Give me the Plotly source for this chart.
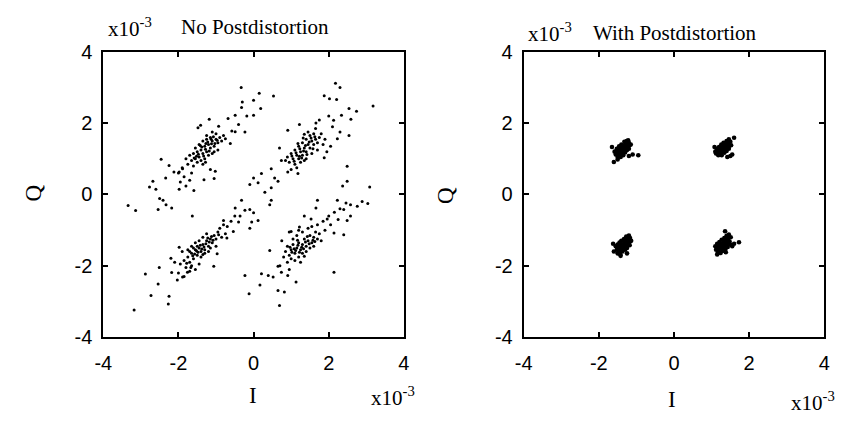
import plotly.graph_objects as go

# ---- Data (units of 1e-3) ----
# Left panel: No Postdistortion
nopd_upper_left = [(-0.33,3.0),(0.15,2.84),(0.53,2.76),(-0.30,2.59),(0.0,2.64),(0.19,2.41),(-0.32,2.44),(-0.49,2.22),(-0.68,2.13),(-0.18,2.2),(0.0,2.22),(-0.4,1.96),(-0.58,1.78),(-0.23,1.75),(-0.49,1.76),(-1.18,2.11),(-1.41,1.94),(-1.48,1.87),(-0.93,1.91),(-0.75,1.56),(-0.62,1.43),(-2.46,0.99),(-2.25,0.81),(-2.12,0.63),(-2.34,0.46),(-2.68,0.37),(-2.77,0.21),(-2.6,0.15),(-2.5,-0.11),(-2.41,-0.16),(-2.54,-0.42),(-2.33,-0.29),(-2.18,-0.38),(-1.98,0.15),(-1.8,0.24),(-1.59,0.11),(-1.32,0.41),(-1.02,0.65),(-1.28,0.90),(-1.98,0.63),(-1.89,0.72),(-3.34,-0.31),(-3.14,-0.45),
    (-1.65,0.95),(-1.55,1.0),(-1.6,1.15),(-1.5,1.2),(-1.45,1.05),(-1.4,1.25),(-1.35,1.15),(-1.3,1.35),(-1.25,1.2),(-1.2,1.4),(-1.15,1.3),(-1.1,1.5),(-1.05,1.35),(-1.0,1.55),(-0.95,1.45),(-0.9,1.6),(-1.45,1.4),(-1.35,1.5),(-1.25,1.55),(-1.15,1.6),(-1.0,1.7),(-1.5,0.9),(-1.3,1.0),(-1.2,1.1),(-1.1,1.15),(-1.7,1.1),(-1.55,1.3),(-1.4,0.95),(-0.85,1.5),(-0.95,1.25),(-1.05,1.2),(-1.6,0.8),(-1.75,0.85),(-1.8,1.0),(-1.25,1.65),(-1.1,1.75),(-0.8,1.65),(-1.35,0.85),
    (-1.9,0.75),(-2.0,0.6),(-1.85,0.5),(-1.65,0.6),(-1.95,0.35),(-1.7,0.4),(-1.05,0.45),(-1.15,0.7),
    (-1.38,1.33),(-1.22,1.47),(-1.12,1.42),(-1.28,1.27),(-1.47,1.13),(-1.33,1.08),(-1.18,1.22),(-1.07,1.62),(-0.97,1.52),(-1.52,1.07),(-1.42,1.37),(-1.27,1.43),(-1.13,1.55),(-1.58,1.02),(-1.03,1.43)]

nopd_upper_right = [(2.18,3.12),(2.30,3.0),(1.88,2.77),(2.02,2.68),(2.21,2.66),(3.18,2.48),(2.54,2.41),(2.74,2.33),(2.34,2.22),(2.59,2.11),(2.13,2.08),(1.75,2.09),(1.22,1.96),(1.66,2.0),(0.91,1.80),(1.35,1.69),(2.54,1.65),(2.23,1.56),(2.49,0.79),(1.88,1.03),(1.18,0.59),(0.69,1.30),(0.74,0.95),(0.47,0.72),(0.21,0.59),(0.0,0.46),(0.12,0.33),(-0.1,0.28),(0.3,0.06),(0.47,0.19),(0.65,0.37),(0.56,0.46),(0.91,0.63),(0.43,-0.29),(0.47,-0.16),(2.0,2.2),(2.1,1.9),(2.3,1.75),(2.05,1.35),(1.95,1.2),
    (0.95,0.9),(1.05,1.0),(1.1,0.85),(1.15,1.1),(1.2,1.0),(1.25,1.2),(1.3,1.1),(1.35,1.3),(1.4,1.2),(1.45,1.4),(1.5,1.3),(1.55,1.5),(1.6,1.4),(1.65,1.55),(1.7,1.45),(1.75,1.6),(1.0,1.15),(1.1,1.25),(1.2,1.35),(1.3,1.45),(1.4,1.55),(1.5,1.65),(1.6,1.7),(0.9,1.05),(1.25,0.9),(1.4,1.0),(1.55,1.15),(1.7,1.25),(1.85,1.4),(1.8,1.7),(1.35,0.95),(1.15,0.75),(1.0,0.7),(1.65,1.85),(1.9,1.55),(1.45,1.75),(0.85,0.95),
    (1.13,1.17),(1.23,1.28),(1.33,1.22),(1.38,1.37),(1.48,1.47),(1.28,1.02),(1.08,0.93),(1.18,1.43),(1.42,1.12),(1.58,1.28),(1.02,1.08),(1.53,1.58),(1.63,1.62),(1.32,1.58),(1.22,1.07)]

nopd_lower_left = [(-1.63,-0.60),(-0.32,-0.16),(-0.49,-0.38),(0.0,-0.51),(-0.23,-0.44),(-0.10,-0.42),(-0.36,-0.60),(-0.80,-0.73),(-0.40,-0.77),(-0.05,-0.77),(0.12,-0.73),(-0.10,-0.95),(-0.54,-1.04),(-0.71,-1.22),(-0.93,-1.13),(-1.98,-1.48),(-2.2,-1.79),(-2.18,-2.19),(-2.03,-2.40),(-1.89,-2.31),(-1.76,-2.18),(-1.67,-2.05),(-1.06,-2.01),(-0.97,-1.66),(-2.51,-2.05),(-2.88,-2.23),(-2.54,-2.51),(-2.73,-2.83),(-2.25,-2.85),(-2.27,-3.07),(-3.18,-3.24),
    (-1.85,-1.85),(-1.75,-1.75),(-1.7,-1.9),(-1.65,-1.65),(-1.6,-1.8),(-1.55,-1.55),(-1.5,-1.7),(-1.45,-1.5),(-1.4,-1.6),(-1.35,-1.4),(-1.3,-1.55),(-1.25,-1.3),(-1.2,-1.45),(-1.15,-1.25),(-1.1,-1.35),(-1.05,-1.15),(-1.0,-1.25),(-0.95,-1.05),(-1.55,-1.35),(-1.45,-1.3),(-1.35,-1.2),(-1.25,-1.1),(-1.6,-1.5),(-1.5,-1.45),(-1.4,-1.75),(-1.3,-1.65),(-1.2,-1.6),(-1.75,-1.55),(-1.65,-1.45),(-1.9,-1.6),(-1.95,-1.95),(-1.8,-2.05),(-1.65,-2.0),(-0.9,-0.95),(-0.85,-1.2),(-1.15,-1.5),(-1.45,-1.95),(-1.0,-1.45),
    (-2.0,-2.2),(-1.85,-2.3),(-1.7,-2.15),(-1.55,-2.1),(-2.1,-1.9),(-0.8,-0.85),(-0.7,-0.9),(-0.6,-0.75),(-0.5,-0.6),(-0.75,-1.1),
    (-1.42,-1.42),(-1.32,-1.47),(-1.52,-1.58),(-1.38,-1.53),(-1.27,-1.38),(-1.57,-1.67),(-1.48,-1.62),(-1.62,-1.72),(-1.22,-1.22),(-1.12,-1.18),(-1.7,-1.6),(-1.35,-1.68),(-1.18,-1.33),(-1.08,-1.28),(-1.78,-1.93)]

nopd_lower_right = [(3.09,0.21),(3.04,-0.25),(2.89,-0.20),(2.76,-0.33),(2.58,-0.29),(2.46,-0.24),(2.49,0.37),(2.37,0.24),(2.23,-0.16),(2.4,-0.42),(2.58,-0.6),(2.49,-0.73),(2.4,-1.13),(2.14,-1.08),(1.96,-0.69),(1.70,-0.16),(1.66,-0.38),(1.35,-0.60),(1.53,-0.69),(1.22,-0.91),(1.0,-1.04),(2.14,-2.18),(1.13,-2.45),(0.91,-2.27),(0.74,-2.18),(0.52,-2.31),(0.39,-2.27),(0.21,-2.22),(0.17,-2.54),(-0.23,-2.27),(-0.12,-2.78),(0.65,-2.69),(0.82,-2.73),(0.69,-3.11),(0.43,-1.57),(0.65,-2.01),
    (0.85,-1.6),(0.9,-1.45),(0.95,-1.7),(1.0,-1.55),(1.05,-1.4),(1.1,-1.65),(1.15,-1.5),(1.2,-1.35),(1.25,-1.55),(1.3,-1.4),(1.35,-1.25),(1.4,-1.45),(1.45,-1.3),(1.5,-1.15),(1.55,-1.35),(1.6,-1.2),(1.65,-1.05),(1.7,-1.25),(1.75,-1.1),(1.0,-1.8),(1.1,-1.85),(0.9,-1.9),(1.2,-1.75),(1.3,-1.65),(1.4,-1.6),(1.5,-1.5),(1.6,-1.45),(1.05,-1.25),(1.15,-1.15),(1.3,-1.05),(1.45,-0.95),(1.8,-1.3),(0.8,-1.75),(1.25,-1.9),(1.55,-0.9),(1.7,-0.85),(1.2,-1.0),
    (1.85,-0.75),(2.0,-0.6),(2.15,-0.5),(2.3,-0.4),(2.05,-0.85),(2.25,-0.7),(1.9,-1.0),(0.95,-1.05),(0.75,-1.3),(0.7,-2.0),(0.95,-2.1),
    (1.08,-1.52),(1.18,-1.42),(1.28,-1.48),(1.38,-1.33),(1.02,-1.62),(1.12,-1.57),(1.33,-1.52),(1.48,-1.38),(1.58,-1.28),(1.22,-1.62),(0.97,-1.48),(1.43,-1.18),(1.63,-1.32),(1.17,-1.28),(1.35,-1.73)]

# Right panel: With Postdistortion
wpd_upper_left = [(-1.55,1.12),(-1.5,1.18),(-1.48,1.08),(-1.45,1.25),(-1.42,1.15),(-1.4,1.3),(-1.38,1.2),(-1.35,1.35),(-1.33,1.25),(-1.3,1.4),(-1.28,1.3),(-1.25,1.42),(-1.22,1.35),(-1.2,1.45),(-1.18,1.38),(-1.52,1.28),(-1.46,1.35),(-1.4,1.4),(-1.32,1.48),(-1.26,1.5),(-1.5,1.05),(-1.42,1.05),(-1.35,1.1),(-1.3,1.18),(-1.25,1.25),(-1.2,1.28),(-1.15,1.4),(-1.58,1.2),(-1.44,1.2),(-1.36,1.28),(-1.28,1.35),(-1.22,1.52),(-1.53,1.22),(-1.39,1.13),
    (-1.65,1.33),(-1.6,0.91),(-0.95,1.10),(-1.2,1.08),(-1.5,0.98),(-1.1,1.12)]
wpd_upper_right = [(1.12,1.15),(1.16,1.2),(1.18,1.1),(1.22,1.25),(1.25,1.17),(1.28,1.3),(1.3,1.2),(1.33,1.35),(1.36,1.25),(1.38,1.4),(1.41,1.3),(1.44,1.45),(1.47,1.36),(1.5,1.48),(1.14,1.28),(1.2,1.33),(1.26,1.4),(1.32,1.45),(1.4,1.5),(1.46,1.55),(1.2,1.12),(1.27,1.1),(1.34,1.17),(1.4,1.22),(1.46,1.28),(1.52,1.38),(1.1,1.2),(1.24,1.22),(1.31,1.27),(1.37,1.32),(1.43,1.38),
    (1.6,1.59),(1.08,1.33),(1.55,1.12),(1.5,1.08),(1.42,1.05)]
wpd_lower_left = [(-1.52,-1.55),(-1.48,-1.5),(-1.45,-1.6),(-1.42,-1.45),(-1.4,-1.55),(-1.37,-1.4),(-1.35,-1.5),(-1.32,-1.35),(-1.3,-1.45),(-1.27,-1.3),(-1.25,-1.4),(-1.22,-1.25),(-1.2,-1.35),(-1.17,-1.22),(-1.5,-1.4),(-1.45,-1.35),(-1.4,-1.3),(-1.33,-1.25),(-1.27,-1.18),(-1.2,-1.15),(-1.5,-1.65),(-1.43,-1.68),(-1.37,-1.6),(-1.3,-1.55),(-1.25,-1.5),(-1.18,-1.42),(-1.55,-1.45),(-1.47,-1.43),(-1.38,-1.47),(-1.3,-1.38),(-1.23,-1.32),
    (-1.62,-1.38),(-1.25,-1.65),(-1.42,-1.72),(-1.6,-1.6),(-1.14,-1.3)]
wpd_lower_right = [(1.12,-1.55),(1.15,-1.48),(1.18,-1.58),(1.21,-1.42),(1.24,-1.52),(1.27,-1.38),(1.3,-1.48),(1.33,-1.32),(1.36,-1.42),(1.39,-1.27),(1.42,-1.37),(1.45,-1.22),(1.48,-1.32),(1.51,-1.2),(1.15,-1.38),(1.21,-1.33),(1.27,-1.27),(1.34,-1.22),(1.4,-1.16),(1.46,-1.12),(1.17,-1.63),(1.24,-1.64),(1.3,-1.58),(1.37,-1.53),(1.43,-1.47),(1.5,-1.4),(1.1,-1.45),(1.25,-1.45),(1.32,-1.4),(1.38,-1.35),(1.44,-1.3),
    (1.73,-1.34),(1.36,-1.03),(1.38,-1.62),(1.55,-1.45),(1.6,-1.38),(1.15,-1.68)]

tick_vals = [-4, -2, 0, 2, 4]
tick_text = ["-4", "-2", "0", "2", "4"]
titles = ["No Postdistortion", "With Postdistortion"]

W, H = 845, 425
fig = go.Figure()

def add_pts(pts, xa, ya, size):
    fig.add_trace(go.Scatter(x=[p[0] for p in pts], y=[p[1] for p in pts], mode="markers",
                             marker=dict(color="black", size=size, line=dict(width=0)),
                             xaxis=xa, yaxis=ya, showlegend=False, hoverinfo="skip"))

for c in [nopd_upper_left, nopd_upper_right, nopd_lower_left, nopd_lower_right]:
    add_pts(c, "x", "y", 3)
for c in [wpd_upper_left, wpd_upper_right, wpd_lower_left, wpd_lower_right]:
    add_pts(c, "x2", "y2", 4.6)

def ax(domain, standoff):
    return dict(domain=domain, range=[-4, 4], tickvals=tick_vals, ticktext=tick_text,
                showline=True, linecolor="black", linewidth=2, mirror="ticks",
                ticks="inside", ticklen=5, tickwidth=1.5, tickcolor="black",
                showgrid=False, zeroline=False, ticklabelstandoff=standoff,
                tickfont=dict(family="Liberation Sans", size=20, color="black"))

fig.update_layout(
    width=W, height=H, margin=dict(l=0, r=0, t=0, b=0),
    paper_bgcolor="white", plot_bgcolor="white",
    xaxis=ax([96/W, 402/W], 7), yaxis=ax([1-344/H, 1-43/H], 5),
    xaxis2=ax([524/W, 830/W], 7), yaxis2=ax([1-344/H, 1-43/H], 5),
)
fig.layout.yaxis2.anchor = "x2"
fig.layout.xaxis2.anchor = "y2"

def ann(text, px, py, size=21, angle=0, xanchor="center"):
    fig.add_annotation(text=text, x=px/W, y=1-py/H, xref="paper", yref="paper",
                       showarrow=False, xanchor=xanchor, yanchor="middle", textangle=angle,
                       font=dict(family="Liberation Serif", size=size, color="black"))

ann("x10<sup>-3</sup>", 99, 17, xanchor="left")
ann(titles[0], 173, 17, xanchor="left")
ann("Q", 25, 192, size=23, angle=-90)
ann("I", 248, 405, size=23)
ann("x10<sup>-3</sup>", 366, 407, xanchor="left")

ann("x10<sup>-3</sup>", 526, 23, xanchor="left")
ann(titles[1], 593, 23, xanchor="left")
ann("Q", 445, 195, size=23, angle=-90)
ann("I", 675, 410, size=23)
ann("x10<sup>-3</sup>", 794, 412, xanchor="left")

fig.write_html("out.html")
